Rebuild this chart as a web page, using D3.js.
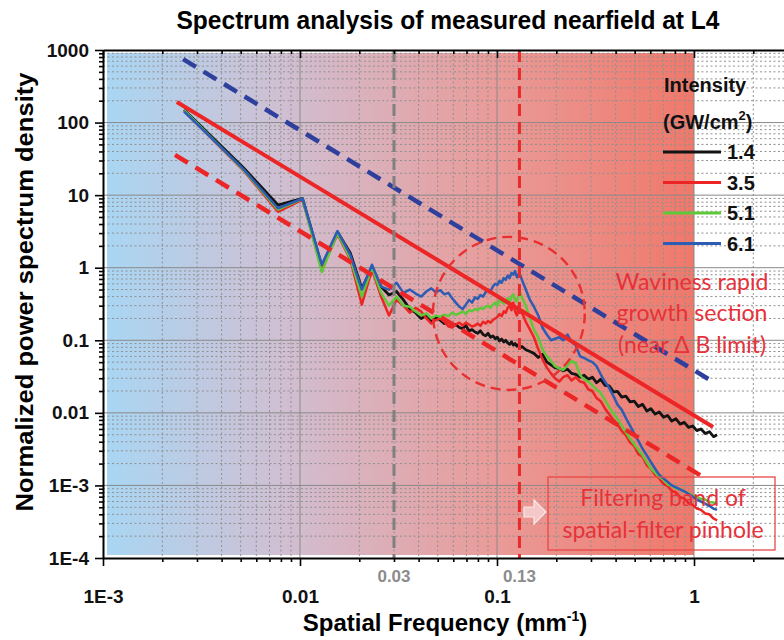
<!DOCTYPE html>
<html><head><meta charset="utf-8">
<script src="https://cdn.jsdelivr.net/npm/d3@7"></script>
<style>
body{margin:0;background:#fff}
svg{display:block}
text{font-family:"Liberation Sans",Arial,sans-serif}
</style>
</head><body>
<svg id="c" width="784" height="640"></svg>
<script>
// ---------------- data ----------------
const freq = [0.00258,0.00515,0.00773,0.0103,0.0129,0.0155,0.018,0.0206,0.0232,0.0258,0.0283,0.0309,0.0335,0.0361,
 0.0386,0.0412,0.0438,0.0464,0.0489,0.0515,0.0541,0.0567,0.0592,0.0618,0.0644,0.067,0.0695,0.0721,0.0747,0.0773,0.0798,0.0824,0.085,0.0876,0.0901,0.0927,0.0953,0.0979,0.1004,0.103,0.1056,0.1082,0.1107,0.1133,0.1159,0.1185,0.121,0.1236,0.1262,0.1288,0.1313,0.1339,
 0.14,0.147,0.154,0.162,0.17,0.179,0.188,0.197,0.207,0.217,0.228,0.239,0.251,0.264,0.277,0.291,0.305,0.32,0.336,0.353,0.371,0.39,0.409,0.43,0.451,0.474,0.497,0.522,0.548,0.576,0.604,0.635,0.666,0.7,0.735,0.771,0.81,0.85,0.893,0.938,0.985,1.034,1.085,1.14,1.197,1.257,1.31];

const psd14 = [150,24,7.3,9.0,1.05,3.1,1.6,0.52,1.0,0.55,0.42,0.47,0.36,0.27,
 0.24,0.20,0.22,0.18,0.21,0.19,0.17,0.18,0.155,0.165,0.15,0.145,0.16,0.135,0.14,0.13,0.125,0.135,0.12,0.115,0.125,0.11,0.115,0.105,0.11,0.098,0.104,0.095,0.10,0.092,0.088,0.095,0.086,0.09,0.083,0.087,0.079,0.082,
 0.074,0.070,0.066,0.058,0.064,0.050,0.046,0.042,0.041,0.038,0.040,0.035,0.034,0.031,0.033,0.029,0.031,0.026,0.029,0.024,0.0235,0.0195,0.0198,0.0165,0.0170,0.0142,0.0145,0.0122,0.0131,0.0106,0.0114,0.0096,0.0103,0.0087,0.0092,0.0077,0.0083,0.0070,0.0074,0.0063,0.0066,0.0057,0.0060,0.0052,0.0055,0.0047,0.0050];

const psd35 = [145,22,5.9,8.7,0.95,2.9,1.3,0.31,0.95,0.40,0.22,0.36,0.30,0.24,
 0.28,0.25,0.20,0.17,0.19,0.20,0.18,0.155,0.15,0.165,0.175,0.16,0.175,0.165,0.155,0.16,0.17,0.158,0.18,0.17,0.185,0.175,0.19,0.20,0.21,0.23,0.215,0.25,0.24,0.28,0.30,0.26,0.33,0.25,0.22,0.28,0.26,0.24,
 0.18,0.14,0.11,0.075,0.055,0.042,0.035,0.030,0.027,0.031,0.033,0.028,0.031,0.027,0.026,0.021,0.020,0.016,0.0145,0.0115,0.0096,0.0080,0.0069,0.0056,0.0049,0.0039,0.0035,0.0027,0.0025,0.0019,0.0017,0.0014,0.00125,0.00105,0.00098,0.00084,0.00080,0.00069,0.00066,0.00057,0.00054,0.00048,0.00046,0.00041,0.00040,0.00035,0.00033];

const psd51 = [148,22.5,6.3,8.9,0.87,3.0,1.35,0.40,1.0,0.45,0.30,0.40,0.30,0.29,
 0.25,0.22,0.235,0.20,0.22,0.21,0.225,0.215,0.24,0.225,0.235,0.25,0.23,0.26,0.25,0.27,0.26,0.28,0.27,0.29,0.30,0.28,0.31,0.33,0.30,0.36,0.34,0.32,0.35,0.38,0.33,0.40,0.43,0.36,0.34,0.42,0.45,0.39,
 0.30,0.20,0.14,0.11,0.075,0.060,0.052,0.044,0.041,0.039,0.045,0.052,0.048,0.033,0.029,0.027,0.024,0.021,0.019,0.015,0.012,0.0098,0.0082,0.0066,0.0054,0.0044,0.0037,0.0031,0.0026,0.0021,0.0017,0.0015,0.0013,0.00121,0.00103,0.00099,0.00091,0.00089,0.00082,0.00078,0.00072,0.00070,0.00065,0.00064,0.00059,0.00058,0.00055];

const psd61 = [142,23,6.6,9.0,1.1,3.2,1.5,0.50,1.1,0.55,0.50,0.62,0.45,0.50,
 0.44,0.40,0.47,0.52,0.46,0.49,0.43,0.45,0.38,0.33,0.29,0.27,0.31,0.36,0.33,0.39,0.37,0.42,0.40,0.46,0.50,0.47,0.55,0.60,0.58,0.66,0.62,0.72,0.68,0.78,0.72,0.85,0.80,0.90,0.74,0.82,0.78,0.68,
 0.50,0.36,0.29,0.22,0.15,0.12,0.10,0.105,0.11,0.10,0.12,0.095,0.085,0.060,0.057,0.053,0.050,0.044,0.034,0.027,0.022,0.017,0.013,0.011,0.0085,0.0066,0.0052,0.0041,0.0032,0.0026,0.0021,0.0017,0.0014,0.00125,0.00112,0.0010,0.00094,0.00088,0.00083,0.00076,0.00070,0.00064,0.00060,0.00056,0.00052,0.00048,0.00046];

const seriesNames  = ["1.4","3.5","5.1","6.1"];
const seriesColors = ["#141414","#ec2424","#5cc83a","#2c5cb4"];

const xTickVals   = [0.001,0.01,0.1,1];
const xTickLabels = ["1E-3","0.01","0.1","1"];
const yTickVals   = [1e-4,1e-3,0.01,0.1,1,10,100,1000];
const yTickLabels = ["1E-4","1E-3","0.01","0.1","1","10","100","1000"];
const markFreqs   = [0.03,0.13];
const markLabels  = ["0.03","0.13"];

// reference slope lines [freq, psd] end points
const fitUpper = [[0.00255,750],[1.25,0.0267]];   // blue dashed
const fitMid   = [[0.00237,192],[1.25,0.0064]];   // red solid
const fitLower = [[0.00232,35.8],[1.11,0.00131]]; // red dashed
// dashed ellipse extent (freq range, psd range)
const growthF = [0.0473,0.279];
const growthV = [0.0207,2.66];

// ---------------- chart ----------------
const svg = d3.select("#c");
const x = d3.scaleLog().domain([1e-3,3]).range([103, 103+197*Math.log10(3000)]);
const y = d3.scaleLog().domain([1e-4,1e3]).range([558,50]);

const defs = svg.append("defs");
const grad = defs.append("linearGradient").attr("id","bg").attr("x1","0").attr("x2","1").attr("y1","0").attr("y2","0");
[[0,"#a9d6f3"],[0.3,"#d0bfd2"],[0.65,"#e99c9a"],[1,"#f0786a"]].forEach(s=>grad.append("stop").attr("offset",s[0]).attr("stop-color",s[1]));

svg.append("rect").attr("x",x(1e-3)+4).attr("y",y(1e3)+3)
  .attr("width",x(1)-x(1e-3)-4).attr("height",y(1e-4)-y(1e3)-6).attr("fill","url(#bg)");

// grid
const xAll = x.ticks(), yAll = y.ticks();
const isMajor = v => Math.abs(Math.log10(v)-Math.round(Math.log10(v)))<1e-6;
const xMinor = xAll.filter(v=>!isMajor(v)), yMinor = yAll.filter(v=>!isMajor(v));
const grid = svg.append("g");
grid.selectAll(".gxm").data(xMinor).join("line").attr("x1",d=>x(d)).attr("x2",d=>x(d)).attr("y1",y(1e3)).attr("y2",y(1e-4))
  .attr("stroke","#909090").attr("stroke-width",1).attr("stroke-dasharray","2,2.5");
grid.selectAll(".gym").data(yMinor).join("line").attr("y1",d=>y(d)).attr("y2",d=>y(d)).attr("x1",x(1e-3)).attr("x2",784)
  .attr("stroke","#909090").attr("stroke-width",1).attr("stroke-dasharray","2,2.5");
grid.selectAll(".gxM").data(xTickVals.slice(1)).join("line").attr("x1",d=>x(d)).attr("x2",d=>x(d)).attr("y1",y(1e3)).attr("y2",y(1e-4))
  .attr("stroke","#8a8a8a").attr("stroke-width",1);
grid.selectAll(".gyM").data(yTickVals.slice(1,-1)).join("line").attr("y1",d=>y(d)).attr("y2",d=>y(d)).attr("x1",x(1e-3)).attr("x2",784)
  .attr("stroke","#8a8a8a").attr("stroke-width",1);

// curves
const line = d3.line().x((d,i)=>x(freq[i])).y(d=>y(d));
[psd14,psd35,psd51,psd61].forEach((s,k)=>{
  svg.append("path").attr("d",line(s)).attr("fill","none").attr("stroke",seriesColors[k])
    .attr("stroke-width",k===0?2.8:2.5).attr("stroke-linejoin","round");
});

// slope lines
const fl = d3.line().x(d=>x(d[0])).y(d=>y(d[1]));
svg.append("path").attr("d",fl(fitUpper)).attr("stroke","#2f3f9c").attr("stroke-width",4.5).attr("stroke-dasharray","15,9").attr("fill","none");
svg.append("path").attr("d",fl(fitMid)).attr("stroke","#ec2626").attr("stroke-width",4).attr("fill","none");
svg.append("path").attr("d",fl(fitLower)).attr("stroke","#ec2626").attr("stroke-width",4.5).attr("stroke-dasharray","15,9").attr("fill","none");

// vertical markers
svg.append("line").attr("x1",x(markFreqs[0])).attr("x2",x(markFreqs[0])).attr("y1",y(1e3)).attr("y2",y(1e-4))
  .attr("stroke","#808080").attr("stroke-width",3).attr("stroke-dasharray","12,6");
svg.append("line").attr("x1",x(markFreqs[1])).attr("x2",x(markFreqs[1])).attr("y1",y(1e3)).attr("y2",y(1e-4))
  .attr("stroke","#e82a2a").attr("stroke-width",3).attr("stroke-dasharray","12,6");

// dashed ellipse
const ex0=x(growthF[0]), ex1=x(growthF[1]), ey0=y(growthV[1]), ey1=y(growthV[0]);
svg.append("ellipse").attr("cx",(ex0+ex1)/2).attr("cy",(ey0+ey1)/2).attr("rx",(ex1-ex0)/2).attr("ry",(ey1-ey0)/2)
  .attr("fill","none").attr("stroke","#e83030").attr("stroke-width",2.4).attr("stroke-dasharray","10,6");

// annotations
const ann = svg.append("g").attr("fill","#e6323a").attr("font-size",23).attr("text-anchor","middle");
[["Waviness rapid",290],["growth section",321],["(near  \u0394 B limit)",353]].forEach(t=>{
  ann.append("text").attr("x",692).attr("y",t[1]).text(t[0]).style("font-family","Lato, 'Open Sans', sans-serif");
});
svg.append("rect").attr("x",548).attr("y",477).attr("width",227).attr("height",73).attr("fill","none").attr("stroke","#e84848").attr("stroke-width",1.3);
[["Filtering band of",506],["spatial-filter pinhole",538]].forEach(t=>{
  ann.append("text").attr("x",663).attr("y",t[1]).text(t[0]).style("font-family","Lato, 'Open Sans', sans-serif");
});
svg.append("path").attr("d","M524,507 L534,507 L534,500 L546,512 L534,524 L534,517 L524,517 Z")
  .attr("fill","#f4c8c8").attr("stroke","#fde8e8").attr("stroke-width",1.2);

// axes
const axFont = g => g.selectAll("text").attr("font-size",19).attr("font-weight","bold").attr("fill","#111")
  .style("font-family","'Liberation Sans',Arial,sans-serif");
const gL = svg.append("g").attr("transform",`translate(${x(1e-3)},0)`)
  .call(d3.axisLeft(y).tickValues(yTickVals).tickFormat((d,i)=>yTickLabels[i]).tickSize(8).tickSizeOuter(0).tickPadding(6));
gL.call(axFont);
svg.append("g").attr("transform",`translate(${x(1e-3)},0)`)
  .call(d3.axisLeft(y).tickValues(yMinor).tickFormat("").tickSize(4).tickSizeOuter(0)).select(".domain").remove();
const gB = svg.append("g").attr("transform",`translate(0,${y(1e-4)})`)
  .call(d3.axisBottom(x).tickValues(xTickVals).tickFormat((d,i)=>xTickLabels[i]).tickSize(8).tickSizeOuter(0).tickPadding(24));
gB.call(axFont);
svg.append("g").attr("transform",`translate(0,${y(1e-4)})`)
  .call(d3.axisBottom(x).tickValues(xMinor).tickFormat("").tickSize(4).tickSizeOuter(0)).select(".domain").remove();
svg.append("g").attr("transform",`translate(0,${y(1e3)})`)
  .call(d3.axisTop(x).tickValues(xTickVals).tickFormat("").tickSize(-8).tickSizeOuter(0));
svg.append("g").attr("transform",`translate(0,${y(1e3)})`)
  .call(d3.axisTop(x).tickValues(xMinor).tickFormat("").tickSize(-4).tickSizeOuter(0)).select(".domain").remove();
svg.selectAll(".domain").attr("stroke","#000").attr("stroke-width",2);
svg.selectAll(".tick line").attr("stroke","#000").attr("stroke-width",1.6);

// marker labels
svg.selectAll(".mk").data(markFreqs).join("text").attr("x",d=>x(d)).attr("y",y(1e-4)+24)
  .attr("text-anchor","middle").attr("font-size",17).attr("font-weight","bold").attr("fill","#8c8c8c")
  .text((d,i)=>markLabels[i]);

// titles
svg.append("text").attr("x",448).attr("y",29).attr("text-anchor","middle").attr("font-size",25).attr("font-weight","bold")
  .attr("textLength",543).attr("lengthAdjust","spacingAndGlyphs").text("Spectrum analysis of measured nearfield at L4");
const xt = svg.append("text").attr("x",445).attr("y",631).attr("text-anchor","middle").attr("font-size",24).attr("font-weight","bold");
xt.append("tspan").text("Spatial Frequency (mm");
xt.append("tspan").attr("dy",-10).attr("font-size",14).text("-1");
xt.append("tspan").attr("dy",10).text(")");
svg.append("text").attr("transform","translate(33,292) rotate(-90)").attr("text-anchor","middle").attr("font-size",24).attr("font-weight","bold")
  .attr("textLength",439).attr("lengthAdjust","spacingAndGlyphs").text("Normalized power spectrum density");

// legend
const lg = svg.append("g").attr("font-size",20).attr("font-weight","bold").attr("fill","#111");
lg.append("text").attr("x",664).attr("y",92).text("Intensity");
const lt = lg.append("text").attr("x",663).attr("y",129);
lt.append("tspan").text("(GW/cm");
lt.append("tspan").attr("dy",-9).attr("font-size",13).text("2");
lt.append("tspan").attr("dy",9).text(")");
seriesNames.forEach((n,k)=>{
  const yy = 152 + k*30.5;
  lg.append("line").attr("x1",663).attr("x2",721).attr("y1",yy).attr("y2",yy).attr("stroke",seriesColors[k]).attr("stroke-width",3);
  lg.append("text").attr("x",727).attr("y",yy+7).text(n);
});
</script>
</body></html>
